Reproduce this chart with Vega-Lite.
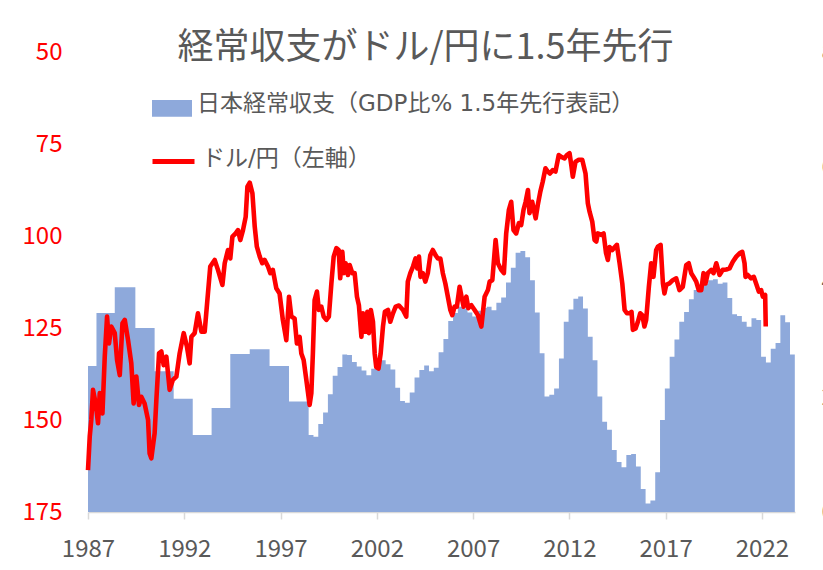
{
  "$schema": "https://vega.github.io/schema/vega-lite/v6.json",
  "width": 707,
  "height": 460,
  "autosize": {"type": "none"},
  "padding": {"left": 88, "top": 52, "right": 28, "bottom": 58},
  "background": "white",
  "config": {"view": {"stroke": null}, "axis": {"grid": false}, "legend": {"padding": 0}},
  "title": {
    "text": "経常収支がドル/円に1.5年先行",
    "font": "Noto Sans CJK JP",
    "fontSize": 36,
    "fontWeight": "normal",
    "color": "#595959",
    "anchor": "middle",
    "dx": -16,
    "offset": -27
  },
  "datasets": {
    "ca": [
      {"t": 1987.0, "ca": 2.54}, {"t": 1987.44, "ca": 3.46}, {"t": 1988.39, "ca": 3.91}, {"t": 1989.46, "ca": 3.2},
      {"t": 1990.46, "ca": 2.45}, {"t": 1991.45, "ca": 1.97}, {"t": 1992.44, "ca": 1.34}, {"t": 1993.42, "ca": 1.81},
      {"t": 1994.39, "ca": 2.75}, {"t": 1995.4, "ca": 2.83}, {"t": 1996.43, "ca": 2.54}, {"t": 1997.44, "ca": 1.92},
      {"t": 1998.46, "ca": 1.34}, {"t": 1998.71, "ca": 1.31}, {"t": 1998.96, "ca": 1.53}, {"t": 1999.21, "ca": 1.73},
      {"t": 1999.46, "ca": 2.05}, {"t": 1999.71, "ca": 2.37}, {"t": 1999.96, "ca": 2.52}, {"t": 2000.21, "ca": 2.74},
      {"t": 2000.46, "ca": 2.73}, {"t": 2000.71, "ca": 2.61}, {"t": 2000.96, "ca": 2.53}, {"t": 2001.21, "ca": 2.46},
      {"t": 2001.46, "ca": 2.38}, {"t": 2001.71, "ca": 2.49}, {"t": 2001.96, "ca": 2.52}, {"t": 2002.21, "ca": 2.64},
      {"t": 2002.46, "ca": 2.57}, {"t": 2002.71, "ca": 2.48}, {"t": 2002.96, "ca": 2.16}, {"t": 2003.21, "ca": 1.93},
      {"t": 2003.46, "ca": 1.9}, {"t": 2003.71, "ca": 2.08}, {"t": 2003.96, "ca": 2.34}, {"t": 2004.21, "ca": 2.47},
      {"t": 2004.46, "ca": 2.55}, {"t": 2004.71, "ca": 2.45}, {"t": 2004.96, "ca": 2.51}, {"t": 2005.21, "ca": 2.78},
      {"t": 2005.46, "ca": 3.01}, {"t": 2005.71, "ca": 3.32}, {"t": 2005.96, "ca": 3.46}, {"t": 2006.21, "ca": 3.57},
      {"t": 2006.46, "ca": 3.54}, {"t": 2006.71, "ca": 3.47}, {"t": 2006.96, "ca": 3.4}, {"t": 2007.21, "ca": 3.5},
      {"t": 2007.46, "ca": 3.55}, {"t": 2007.71, "ca": 3.57}, {"t": 2007.96, "ca": 3.51}, {"t": 2008.21, "ca": 3.64},
      {"t": 2008.46, "ca": 3.73}, {"t": 2008.71, "ca": 3.99}, {"t": 2008.96, "ca": 4.25}, {"t": 2009.21, "ca": 4.51},
      {"t": 2009.46, "ca": 4.54}, {"t": 2009.71, "ca": 4.43}, {"t": 2009.96, "ca": 4.03}, {"t": 2010.21, "ca": 3.47},
      {"t": 2010.46, "ca": 2.76}, {"t": 2010.71, "ca": 2.01}, {"t": 2010.96, "ca": 2.04}, {"t": 2011.21, "ca": 2.15},
      {"t": 2011.46, "ca": 2.67}, {"t": 2011.71, "ca": 3.31}, {"t": 2011.96, "ca": 3.52}, {"t": 2012.21, "ca": 3.71},
      {"t": 2012.46, "ca": 3.75}, {"t": 2012.71, "ca": 3.54}, {"t": 2012.96, "ca": 3.05}, {"t": 2013.21, "ca": 2.64},
      {"t": 2013.46, "ca": 2.01}, {"t": 2013.71, "ca": 1.57}, {"t": 2013.96, "ca": 1.43}, {"t": 2014.21, "ca": 1.08},
      {"t": 2014.46, "ca": 0.87}, {"t": 2014.71, "ca": 0.78}, {"t": 2014.96, "ca": 0.99}, {"t": 2015.21, "ca": 1.01},
      {"t": 2015.46, "ca": 0.79}, {"t": 2015.71, "ca": 0.4}, {"t": 2015.96, "ca": 0.15}, {"t": 2016.21, "ca": 0.2},
      {"t": 2016.46, "ca": 0.69}, {"t": 2016.71, "ca": 1.6}, {"t": 2016.96, "ca": 2.15}, {"t": 2017.21, "ca": 2.7},
      {"t": 2017.46, "ca": 3.0}, {"t": 2017.71, "ca": 3.31}, {"t": 2017.96, "ca": 3.48}, {"t": 2018.21, "ca": 3.7},
      {"t": 2018.46, "ca": 3.86}, {"t": 2018.71, "ca": 3.93}, {"t": 2018.96, "ca": 3.97}, {"t": 2019.21, "ca": 4.03},
      {"t": 2019.46, "ca": 4.05}, {"t": 2019.71, "ca": 3.97}, {"t": 2019.96, "ca": 3.99}, {"t": 2020.21, "ca": 3.72},
      {"t": 2020.46, "ca": 3.44}, {"t": 2020.71, "ca": 3.41}, {"t": 2020.96, "ca": 3.31}, {"t": 2021.21, "ca": 3.22},
      {"t": 2021.46, "ca": 3.37}, {"t": 2021.71, "ca": 3.34}, {"t": 2021.96, "ca": 2.7}, {"t": 2022.21, "ca": 2.6},
      {"t": 2022.46, "ca": 2.84}, {"t": 2022.71, "ca": 2.94}, {"t": 2022.96, "ca": 3.42}, {"t": 2023.21, "ca": 3.3},
      {"t": 2023.46, "ca": 2.74}, {"t": 2023.71, "ca": 2.74}
    ],
    "fx": [
      {"t": 1987.0, "v": 163.6}, {"t": 1987.09, "v": 154.5}, {"t": 1987.17, "v": 150.0}, {"t": 1987.26, "v": 141.8},
      {"t": 1987.4, "v": 145.5}, {"t": 1987.52, "v": 150.9}, {"t": 1987.61, "v": 142.7}, {"t": 1987.75, "v": 148.2},
      {"t": 1987.87, "v": 132.8}, {"t": 1987.99, "v": 121.9}, {"t": 1988.09, "v": 129.2}, {"t": 1988.21, "v": 124.6},
      {"t": 1988.39, "v": 126.4}, {"t": 1988.51, "v": 133.7}, {"t": 1988.65, "v": 137.8}, {"t": 1988.79, "v": 123.7},
      {"t": 1988.91, "v": 122.8}, {"t": 1989.08, "v": 128.3}, {"t": 1989.25, "v": 134.6}, {"t": 1989.37, "v": 145.5},
      {"t": 1989.51, "v": 138.2}, {"t": 1989.65, "v": 145.9}, {"t": 1989.77, "v": 143.7}, {"t": 1989.94, "v": 145.5},
      {"t": 1990.12, "v": 150.0}, {"t": 1990.2, "v": 159.1}, {"t": 1990.29, "v": 160.4}, {"t": 1990.46, "v": 153.6},
      {"t": 1990.55, "v": 144.6}, {"t": 1990.69, "v": 131.9}, {"t": 1990.81, "v": 131.4}, {"t": 1990.93, "v": 135.1},
      {"t": 1991.07, "v": 132.8}, {"t": 1991.24, "v": 141.8}, {"t": 1991.41, "v": 139.1}, {"t": 1991.59, "v": 138.2},
      {"t": 1991.76, "v": 131.9}, {"t": 1991.97, "v": 126.4}, {"t": 1992.14, "v": 130.1}, {"t": 1992.28, "v": 134.6},
      {"t": 1992.37, "v": 127.4}, {"t": 1992.54, "v": 126.4}, {"t": 1992.71, "v": 121.0}, {"t": 1992.89, "v": 126.0},
      {"t": 1993.06, "v": 126.0}, {"t": 1993.23, "v": 115.6}, {"t": 1993.35, "v": 108.3}, {"t": 1993.58, "v": 106.5},
      {"t": 1993.75, "v": 109.2}, {"t": 1993.98, "v": 113.3}, {"t": 1994.1, "v": 107.4}, {"t": 1994.27, "v": 103.8},
      {"t": 1994.39, "v": 106.1}, {"t": 1994.5, "v": 100.2}, {"t": 1994.67, "v": 99.3}, {"t": 1994.79, "v": 98.4},
      {"t": 1994.91, "v": 101.1}, {"t": 1995.05, "v": 98.4}, {"t": 1995.19, "v": 94.8}, {"t": 1995.28, "v": 86.6},
      {"t": 1995.4, "v": 85.5}, {"t": 1995.54, "v": 88.4}, {"t": 1995.66, "v": 97.5}, {"t": 1995.77, "v": 102.9},
      {"t": 1995.92, "v": 105.6}, {"t": 1996.05, "v": 107.4}, {"t": 1996.17, "v": 106.5}, {"t": 1996.35, "v": 108.3},
      {"t": 1996.47, "v": 110.1}, {"t": 1996.6, "v": 109.2}, {"t": 1996.78, "v": 114.2}, {"t": 1996.95, "v": 115.6},
      {"t": 1997.12, "v": 122.8}, {"t": 1997.3, "v": 128.3}, {"t": 1997.44, "v": 116.5}, {"t": 1997.56, "v": 121.9},
      {"t": 1997.73, "v": 122.4}, {"t": 1997.85, "v": 129.2}, {"t": 1997.99, "v": 127.4}, {"t": 1998.08, "v": 131.9},
      {"t": 1998.2, "v": 133.7}, {"t": 1998.34, "v": 139.1}, {"t": 1998.51, "v": 145.9}, {"t": 1998.6, "v": 142.7},
      {"t": 1998.68, "v": 131.9}, {"t": 1998.77, "v": 117.4}, {"t": 1998.89, "v": 115.1}, {"t": 1998.99, "v": 120.1},
      {"t": 1999.12, "v": 119.2}, {"t": 1999.24, "v": 121.9}, {"t": 1999.38, "v": 122.8}, {"t": 1999.51, "v": 121.9},
      {"t": 1999.64, "v": 112.9}, {"t": 1999.76, "v": 105.6}, {"t": 1999.9, "v": 103.3}, {"t": 2000.02, "v": 103.8},
      {"t": 2000.1, "v": 111.5}, {"t": 2000.21, "v": 104.3}, {"t": 2000.29, "v": 110.1}, {"t": 2000.38, "v": 107.4},
      {"t": 2000.5, "v": 110.6}, {"t": 2000.59, "v": 107.9}, {"t": 2000.73, "v": 110.1}, {"t": 2000.85, "v": 110.1},
      {"t": 2000.97, "v": 116.5}, {"t": 2001.07, "v": 118.8}, {"t": 2001.2, "v": 127.4}, {"t": 2001.28, "v": 121.0},
      {"t": 2001.4, "v": 126.0}, {"t": 2001.51, "v": 120.6}, {"t": 2001.59, "v": 126.4}, {"t": 2001.69, "v": 120.1},
      {"t": 2001.8, "v": 123.3}, {"t": 2001.89, "v": 131.9}, {"t": 2001.97, "v": 135.6}, {"t": 2002.09, "v": 136.0},
      {"t": 2002.2, "v": 131.9}, {"t": 2002.32, "v": 124.6}, {"t": 2002.42, "v": 120.6}, {"t": 2002.58, "v": 120.1},
      {"t": 2002.7, "v": 123.3}, {"t": 2002.84, "v": 121.0}, {"t": 2002.98, "v": 119.2}, {"t": 2003.15, "v": 118.9},
      {"t": 2003.36, "v": 120.1}, {"t": 2003.53, "v": 121.9}, {"t": 2003.61, "v": 112.4}, {"t": 2003.74, "v": 110.1},
      {"t": 2003.88, "v": 108.3}, {"t": 2004.01, "v": 106.1}, {"t": 2004.1, "v": 108.8}, {"t": 2004.19, "v": 105.6},
      {"t": 2004.27, "v": 111.1}, {"t": 2004.39, "v": 110.1}, {"t": 2004.52, "v": 112.4}, {"t": 2004.65, "v": 110.1},
      {"t": 2004.78, "v": 105.2}, {"t": 2004.91, "v": 103.8}, {"t": 2005.05, "v": 105.2}, {"t": 2005.17, "v": 106.1},
      {"t": 2005.3, "v": 106.1}, {"t": 2005.43, "v": 110.1}, {"t": 2005.56, "v": 112.9}, {"t": 2005.69, "v": 116.5},
      {"t": 2005.82, "v": 120.1}, {"t": 2005.92, "v": 121.5}, {"t": 2006.04, "v": 119.2}, {"t": 2006.16, "v": 119.2},
      {"t": 2006.3, "v": 113.8}, {"t": 2006.4, "v": 116.5}, {"t": 2006.51, "v": 119.2}, {"t": 2006.65, "v": 116.5},
      {"t": 2006.75, "v": 119.6}, {"t": 2006.91, "v": 118.8}, {"t": 2007.08, "v": 120.1}, {"t": 2007.25, "v": 121.5},
      {"t": 2007.43, "v": 124.6}, {"t": 2007.6, "v": 116.5}, {"t": 2007.77, "v": 114.7}, {"t": 2007.86, "v": 112.4},
      {"t": 2008.0, "v": 112.0}, {"t": 2008.17, "v": 101.1}, {"t": 2008.29, "v": 107.4}, {"t": 2008.46, "v": 109.2},
      {"t": 2008.6, "v": 110.1}, {"t": 2008.72, "v": 99.3}, {"t": 2008.86, "v": 92.9}, {"t": 2008.98, "v": 90.7},
      {"t": 2009.1, "v": 98.4}, {"t": 2009.24, "v": 99.3}, {"t": 2009.38, "v": 96.5}, {"t": 2009.5, "v": 97.0},
      {"t": 2009.62, "v": 92.9}, {"t": 2009.73, "v": 90.7}, {"t": 2009.85, "v": 87.5}, {"t": 2009.93, "v": 93.8},
      {"t": 2010.07, "v": 90.7}, {"t": 2010.25, "v": 95.2}, {"t": 2010.36, "v": 91.6}, {"t": 2010.49, "v": 88.0},
      {"t": 2010.62, "v": 85.2}, {"t": 2010.76, "v": 81.6}, {"t": 2010.88, "v": 82.5}, {"t": 2010.99, "v": 83.0},
      {"t": 2011.14, "v": 82.1}, {"t": 2011.28, "v": 82.5}, {"t": 2011.45, "v": 78.0}, {"t": 2011.58, "v": 78.5},
      {"t": 2011.75, "v": 78.9}, {"t": 2011.87, "v": 78.0}, {"t": 2012.01, "v": 77.5}, {"t": 2012.1, "v": 80.7},
      {"t": 2012.18, "v": 83.9}, {"t": 2012.32, "v": 79.8}, {"t": 2012.49, "v": 79.3}, {"t": 2012.67, "v": 79.3},
      {"t": 2012.84, "v": 83.0}, {"t": 2012.96, "v": 91.1}, {"t": 2013.05, "v": 93.4}, {"t": 2013.19, "v": 96.1},
      {"t": 2013.31, "v": 101.1}, {"t": 2013.4, "v": 101.5}, {"t": 2013.48, "v": 99.3}, {"t": 2013.66, "v": 99.7},
      {"t": 2013.78, "v": 99.3}, {"t": 2013.9, "v": 104.5}, {"t": 2014.0, "v": 106.5}, {"t": 2014.09, "v": 103.0},
      {"t": 2014.23, "v": 103.8}, {"t": 2014.35, "v": 103.1}, {"t": 2014.47, "v": 102.4}, {"t": 2014.61, "v": 107.4},
      {"t": 2014.75, "v": 112.9}, {"t": 2014.87, "v": 120.1}, {"t": 2014.99, "v": 121.0}, {"t": 2015.13, "v": 121.0},
      {"t": 2015.23, "v": 120.6}, {"t": 2015.3, "v": 125.5}, {"t": 2015.44, "v": 125.1}, {"t": 2015.56, "v": 123.3},
      {"t": 2015.68, "v": 121.0}, {"t": 2015.79, "v": 121.5}, {"t": 2015.9, "v": 124.6}, {"t": 2015.99, "v": 122.8},
      {"t": 2016.13, "v": 113.8}, {"t": 2016.25, "v": 107.4}, {"t": 2016.37, "v": 111.1}, {"t": 2016.51, "v": 103.8},
      {"t": 2016.6, "v": 102.9}, {"t": 2016.74, "v": 102.4}, {"t": 2016.86, "v": 112.9}, {"t": 2016.94, "v": 115.6},
      {"t": 2017.03, "v": 113.3}, {"t": 2017.2, "v": 112.9}, {"t": 2017.37, "v": 112.0}, {"t": 2017.55, "v": 111.5},
      {"t": 2017.72, "v": 114.7}, {"t": 2017.89, "v": 113.8}, {"t": 2018.07, "v": 107.9}, {"t": 2018.2, "v": 107.4},
      {"t": 2018.33, "v": 110.1}, {"t": 2018.45, "v": 111.1}, {"t": 2018.59, "v": 112.4}, {"t": 2018.72, "v": 114.7},
      {"t": 2018.85, "v": 114.7}, {"t": 2018.97, "v": 110.1}, {"t": 2019.07, "v": 112.9}, {"t": 2019.19, "v": 110.1},
      {"t": 2019.37, "v": 109.2}, {"t": 2019.49, "v": 110.1}, {"t": 2019.63, "v": 107.4}, {"t": 2019.8, "v": 110.6},
      {"t": 2019.97, "v": 109.2}, {"t": 2020.15, "v": 109.1}, {"t": 2020.32, "v": 108.8}, {"t": 2020.49, "v": 107.0},
      {"t": 2020.67, "v": 105.6}, {"t": 2020.84, "v": 104.7}, {"t": 2020.98, "v": 104.3}, {"t": 2021.1, "v": 107.4},
      {"t": 2021.15, "v": 111.1}, {"t": 2021.27, "v": 110.6}, {"t": 2021.44, "v": 111.5}, {"t": 2021.58, "v": 111.1},
      {"t": 2021.7, "v": 112.9}, {"t": 2021.84, "v": 115.1}, {"t": 2021.96, "v": 114.7}, {"t": 2022.05, "v": 116.5},
      {"t": 2022.17, "v": 116.0}, {"t": 2022.2, "v": 124.6}
    ]
  },
  "encoding": {
    "x": {
      "field": "t",
      "type": "quantitative",
      "scale": {"domain": [1987, 2023.72], "nice": false, "zero": false},
      "axis": {
        "title": null,
        "values": [1987, 1992, 1997, 2002, 2007, 2012, 2017, 2022],
        "format": "d",
        "labelFont": "Noto Sans CJK JP",
        "labelFontSize": 24,
        "labelColor": "#595959",
        "labelFlush": false,
        "labelPadding": 18,
        "domainColor": "#D9D9D9",
        "domainWidth": 1.5,
        "tickColor": "#D9D9D9",
        "tickWidth": 1.5,
        "tickSize": 7
      }
    }
  },
  "layer": [
    {
      "data": {"name": "ca"},
      "mark": {"type": "area", "interpolate": "step-after", "strokeWidth": 0},
      "encoding": {
        "y": {
          "field": "ca",
          "type": "quantitative",
          "scale": {"domain": [0, 8], "nice": false},
          "axis": {
            "orient": "right",
            "title": null,
            "values": [0, 2, 4, 6, 8],
            "labelFont": "Noto Sans CJK JP",
            "labelFontSize": 24,
            "labelColor": "#595959",
            "labelPadding": 26,
            "ticks": false,
            "tickSize": 0,
            "domain": false
          }
        },
        "fill": {
          "datum": "日本経常収支（GDP比% 1.5年先行表記）",
          "type": "nominal",
          "scale": {"range": ["#8EA9DB"]},
          "legend": {
            "orient": "none",
            "legendX": 64,
            "legendY": 32,
            "title": null,
            "symbolType": "M-1,-0.2H1V0.64H-1Z",
            "symbolSize": 1600,
            "symbolStrokeWidth": 0,
            "symbolOpacity": 1,
            "labelFont": "DejaVu Sans, Noto Sans CJK JP",
            "labelFontSize": 23,
            "labelColor": "#595959",
            "labelOffset": 5,
            "labelLimit": 700
          }
        }
      }
    },
    {
      "data": {"name": "fx"},
      "mark": {"type": "line", "strokeWidth": 4.6, "strokeJoin": "round", "strokeCap": "butt"},
      "encoding": {
        "y": {
          "field": "v",
          "type": "quantitative",
          "scale": {"domain": [50, 175], "reverse": true, "nice": false, "zero": false},
          "axis": {
            "orient": "left",
            "title": null,
            "values": [50, 75, 100, 125, 150, 175],
            "labelFont": "Noto Sans CJK JP",
            "labelFontSize": 24,
            "labelColor": "#FF0000",
            "labelPadding": 26,
            "ticks": false,
            "tickSize": 0,
            "domain": false
          }
        },
        "stroke": {
          "datum": "ドル/円（左軸）",
          "type": "nominal",
          "scale": {"range": ["#FF0000"]},
          "legend": {
            "orient": "none",
            "legendX": 62,
            "legendY": 83,
            "title": null,
            "symbolType": "M-1,0.14H1",
            "symbolSize": 1764,
            "symbolStrokeWidth": 5,
            "labelFont": "DejaVu Sans, Noto Sans CJK JP",
            "labelFontSize": 23,
            "labelColor": "#595959",
            "labelOffset": 5,
            "labelLimit": 700
          }
        }
      }
    }
  ],
  "resolve": {"scale": {"y": "independent"}}
}
